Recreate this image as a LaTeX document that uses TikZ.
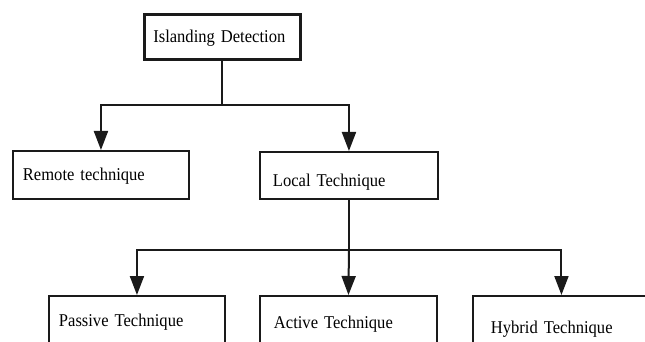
\documentclass[tikz,border=0pt]{standalone}
\usepackage{fontspec}
\setmainfont[FakeStretch=0.92, WordSpace=0.8]{Liberation Serif}
\usepackage{tikz}
\usetikzlibrary{arrows.meta, calc}
\definecolor{linecol}{HTML}{1A1A1A}
\tikzset{
  % plain box holding one technique
  techbox/.style={draw=linecol, line width=1.9pt, fill=white,
                  anchor=north west, align=left, inner ysep=0pt,
                  text height=12pt, text depth=0pt,
                  font=\fontsize{18}{20}\selectfont},
  % elbow connector ending in a filled head
  link/.style={draw=linecol, line width=2pt,
               -{Triangle[length=19pt, width=14pt]}},
}

\begin{document}
\begin{tikzpicture}[x=1pt, y=-1pt]
  \useasboundingbox[fill=white] (0,0) rectangle (645,342);
  % root
  \node[techbox, line width=2.6pt, text width=138pt, inner xsep=9pt,
        minimum height=45pt] (detect) at (143,13) {Islanding Detection};
  % second level
  \node[techbox, text width=156pt, inner xsep=10pt,
        minimum height=48pt] (remote) at (12,150) {Remote technique};
  \node[techbox, text width=152pt, inner xsep=13pt, text height=23pt,
        minimum height=47pt] (local) at (259,151) {Local Technique};
  % third level (boxes run past the lower edge)
  \node[techbox, text width=156pt, inner xsep=10pt,
        minimum height=50pt] (passive) at (48,295) {Passive Technique};
  \node[techbox, text width=149pt, inner xsep=14pt,
        minimum height=53pt] (active) at (259,295) {Active Technique};
  \node[techbox, text width=141pt, inner xsep=18pt,
        minimum height=63pt] (hybrid) at (472,295) {Hybrid Technique};

  % branches
  \coordinate (split1) at ($(detect.south)+(0,44)$);
  \coordinate (split2) at ($(local.south)+(0,50)$);
  \draw[link] (detect.south) -- (split1) -| (remote.north);
  \draw[link] (split1) -| (local.north);
  \draw[link] (local.south) -- (split2) -| (passive.north);
  \draw[link] (split2) -- (active.north);
  \draw[link] (split2) -| (hybrid.north);
\end{tikzpicture}
\end{document}
